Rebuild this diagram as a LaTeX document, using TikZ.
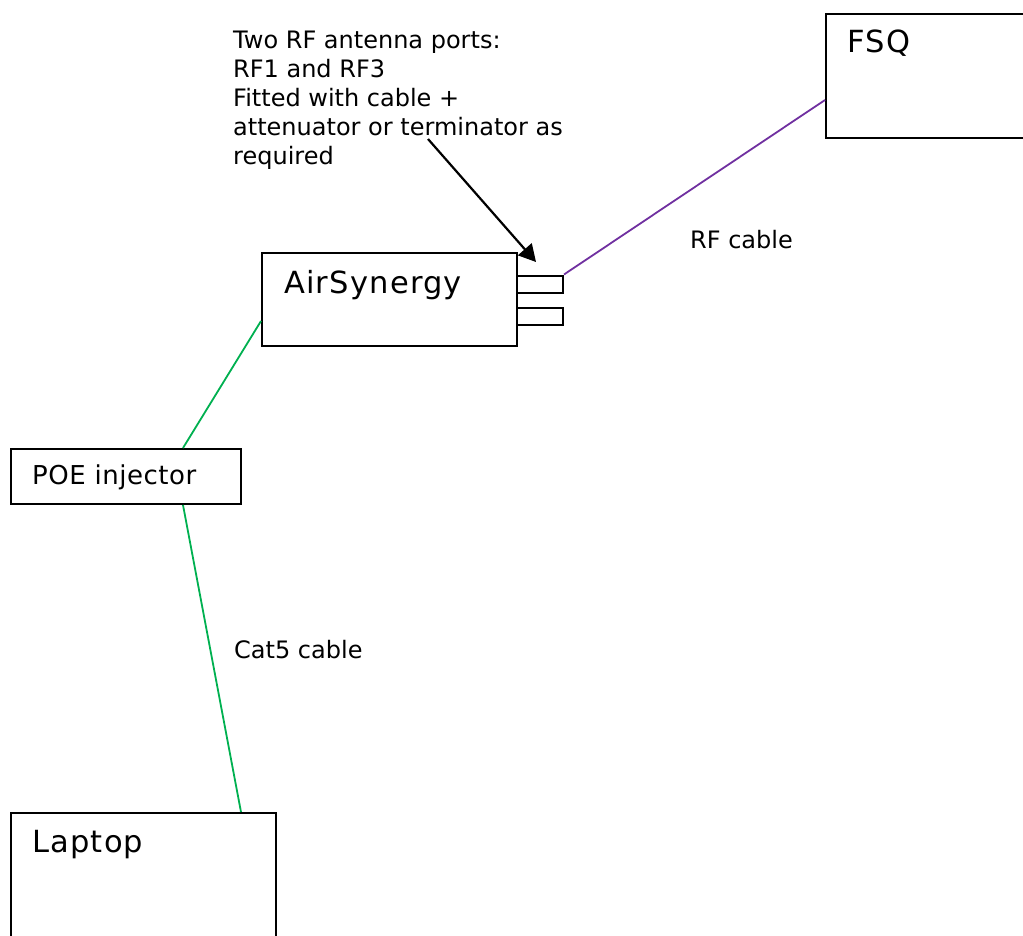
\documentclass[tikz,border=0pt]{standalone}
\usepackage{fontspec}
\setmainfont{DejaVu Sans}
\usetikzlibrary{arrows.meta,calc}

\definecolor{rfpurple}{RGB}{112,48,160}
\definecolor{catgreen}{RGB}{0,176,80}

\begin{document}
\begin{tikzpicture}[x=1pt, y=-1pt]
    %--------------------%
    % Parameters
    %--------------------%
    \def\linethic{2pt}
    \def\boxfont{\addfontfeature{LetterSpace=4}\fontsize{30.5}{35}\selectfont}
    \def\notefont{\fontsize{24}{29}\selectfont}

    \tikzset{
        unit/.style={draw, rectangle, line width=\linethic, inner sep=0pt},
        unitlabel/.style={anchor=base west, inner sep=0pt, font=\boxfont},
        note/.style={anchor=north west, inner sep=0pt, align=left, font=\notefont},
        rfline/.style={draw=rfpurple, line width=1.8pt},
        catline/.style={draw=catgreen, line width=1.8pt}
    }

    \useasboundingbox (0,0) rectangle (1023,936);
    \clip (0,0) rectangle (1023,936);

    %--------------------%
    % Units
    %--------------------%
    \node[unit, minimum width=255pt, minimum height=93pt] (air) at (389.5,299.5) {};
    \node[unit, minimum width=46pt, minimum height=17pt] (port1) at (540,284) {};
    \node[unit, minimum width=46pt, minimum height=17pt] (port2) at (540,316.5) {};
    \node[unit, minimum width=230pt, minimum height=55pt] (poe) at (126,476.5) {};
    \node[unit, minimum width=265pt, minimum height=160pt] (laptop) at (143.5,893) {};
    \node[unit, minimum width=230pt, minimum height=124pt] (fsq) at (941,76) {};

    % Labels
    \node[unitlabel] (airlbl) at ([xshift=23pt, yshift=-41pt]air.north west) {AirSynergy};
    \node[unitlabel, font=\addfontfeature{LetterSpace=2}\fontsize{26}{30}\selectfont] (poelbl) at ([xshift=22pt, yshift=-36pt]poe.north west) {POE injector};
    \node[unitlabel] (laptoplbl) at ([xshift=22pt, yshift=-40pt]laptop.north west) {Laptop};
    \node[unitlabel] (fsqlbl) at ([xshift=22pt, yshift=-40pt]fsq.north west) {FSQ};

    %--------------------%
    % Connections
    %--------------------%
    \draw[rfline] ([yshift=-24pt]fsq.west) -- (port1.north east);
    \draw[catline] ([yshift=-21.5pt]air.west) -- ([xshift=57pt]poe.north);
    \draw[catline] ([xshift=57pt]poe.south) -- ([xshift=97.5pt]laptop.north);

    \node[anchor=west, inner sep=0pt, font=\notefont] (rflbl) at (690,240) {RF cable};
    \node[anchor=west, inner sep=0pt, font=\notefont] (catlbl) at (234,650) {Cat5 cable};

    %--------------------%
    % Port note
    %--------------------%
    \node[note] (portnote) at (233,31) {Two RF antenna ports:\\RF1 and RF3\\Fitted with cable +\\attenuator or terminator as\\required};
    \coordinate (notetail) at (428,139);
    \coordinate (notehead) at (536,262);
    \draw[line width=2.2pt, -{Triangle[length=17pt, width=18pt]}] (notetail) -- (notehead);

\end{tikzpicture}
\end{document}
